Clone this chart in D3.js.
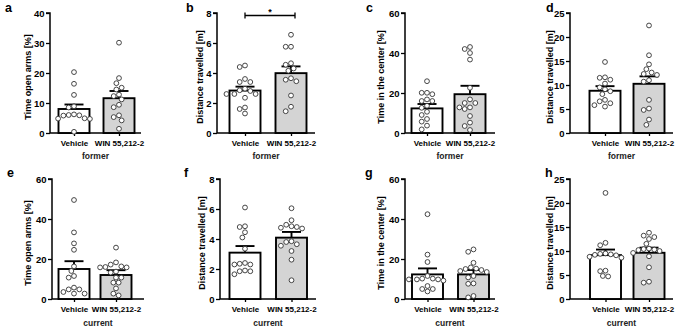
<!DOCTYPE html>
<html>
<head>
<meta charset="utf-8">
<script src="https://cdn.jsdelivr.net/npm/d3@7"></script>
<style>
  body { margin: 0; background: #fff; }
  svg { font-family: "Liberation Sans", Arial, sans-serif; }
</style>
</head>
<body>
<div id="chart"></div>
<script>
// groups and panel info
const groups = ["Vehicle", "WIN 55,212-2"];
const panelLetters = ["a", "b", "c", "d", "e", "f", "g", "h"];
const panelYLabels = [
  "Time open arms [%]", "Distance travelled [m]", "Time in the center [%]", "Distance travelled [m]",
  "Time open arms [%]", "Distance travelled [m]", "Time in the center [%]", "Distance travelled [m]"
];
const panelSessions = ["former", "former", "former", "former", "current", "current", "current", "current"];
const yMax = [40, 8, 60, 25, 60, 8, 60, 25];
const yStep = [10, 2, 20, 5, 20, 2, 20, 5];

// mean and SEM per panel [Vehicle, WIN]
const barMeans = [[8.0, 11.6], [2.83, 3.99], [12.3, 19.4], [8.8, 10.25], [15.0, 12.0], [3.09, 4.09], [12.3, 12.3], [9.14, 9.63]];
const barSems = [[1.5, 2.4], [0.26, 0.45], [2.2, 4.2], [0.96, 1.55], [3.9, 2.4], [0.44, 0.38], [3.0, 2.2], [1.16, 1.07]];

// individual animals
const pointsVehicle = [
  [20.3, 16.4, 12.7, 8.9, 8.5, 6.0, 5.8, 6.2, 5.9, 4.8, 4.9, 4.7, 0.4],
  [4.5, 4.4, 3.6, 3.4, 3.4, 2.95, 2.85, 2.8, 2.6, 2.6, 2.6, 2.35, 1.7, 1.6, 1.3],
  [25.9, 20.1, 20.1, 19.4, 16.8, 16, 16, 13.6, 12.6, 10.6, 9, 7, 5.7, 3.7, 1.8],
  [14.8, 11.6, 11.5, 11.1, 10.3, 9.5, 9.1, 8.7, 8.1, 6.9, 6.6, 6.2, 5.8, 5.5],
  [49.5, 33.3, 27.8, 24.6, 16.3, 14, 11.5, 10.7, 5.7, 4.8, 4.8, 3.5, 2.7, 2.7],
  [6.1, 4.85, 4.8, 4.45, 4.1, 3.35, 2.4, 2.35, 2.3, 2.3, 1.9, 1.85, 1.85, 1.65],
  [42.4, 22.2, 18.5, 11.5, 10.2, 10.2, 9.8, 9.8, 9.8, 9.2, 6.5, 5.0, 5.0, 3.8],
  [22.1, 11.7, 11.2, 9.5, 9.4, 9.3, 9.2, 9.1, 8.8, 8.6, 5.9, 5.8, 4.8, 4.7]
];
const pointsWin = [
  [30.1, 18.3, 16.6, 15.1, 14.5, 12.8, 12.3, 11.2, 9.4, 8.6, 5.9, 5.3, 4.2, 1.4],
  [6.55, 5.75, 5.75, 4.65, 4.55, 4.3, 4.15, 3.65, 3.55, 3.45, 2.5, 1.75, 1.45],
  [43, 42, 40, 36.7, 22.6, 16.8, 15, 15, 12.8, 12.8, 12, 8.5, 5.2, 3.5, 1.5],
  [22.4, 16.2, 14.3, 13.3, 12.6, 12.3, 12.1, 11.0, 10.7, 6.9, 5.1, 4.8, 2.8, 1.7],
  [25.7, 18.3, 17.2, 16.3, 16, 15.8, 15.8, 13.7, 13.2, 10.7, 10.7, 8.2, 8.2, 5.3, 2.7, 1.8],
  [6.05, 5.25, 4.95, 4.85, 4.8, 4.75, 4.7, 3.85, 3.8, 3.65, 3.55, 3.2, 2.62, 1.25],
  [24.8, 23.6, 18.1, 15.8, 15.2, 15.0, 14.5, 14.0, 13.5, 11.5, 10.8, 7.8, 7.6, 1.5, 0.8],
  [13.8, 13.2, 12.9, 12.5, 11.5, 10.5, 10.4, 10.3, 10.2, 10.0, 9.6, 8.9, 6.6, 3.6, 3.4]
];

// layout of each panel (axis x, axis end, first/second bar centre, y-label offset, letter x)
const layout = [
  { ax: 50, end: 141, c1: 74, c2: 119, lab: 22, lx: 5 },
  { ax: 217, end: 315, c1: 245, c2: 291, lab: 17, lx: 186 },
  { ax: 405, end: 495, c1: 427, c2: 470, lab: 24, lx: 366 },
  { ax: 570, end: 673, c1: 605, c2: 649, lab: 20, lx: 546 },
  { ax: 52, end: 144, c1: 74, c2: 116, lab: 24, lx: 7 },
  { ax: 220, end: 316, c1: 245, c2: 291.5, lab: 18, lx: 184 },
  { ax: 405, end: 495, c1: 427.5, c2: 473.5, lab: 24, lx: 365 },
  { ax: 570, end: 673, c1: 605.5, c2: 649, lab: 20, lx: 545 }
];
const rowTop = [13, 179];
const plotH = 120;
const barW = 31;
const ptR = 2.4;
const fills = ["#ffffff", "#d4d4d4"];
const font = "Liberation Sans, Arial, sans-serif";

const svg = d3.select("#chart").append("svg")
  .attr("width", 676)
  .attr("height", 328);

// simple beeswarm: offsets so circles don't overlap
function swarm(vals, y) {
  const placed = [];
  const minD = ptR * 2 + 0.5;
  const order = vals.map((v, i) => i).sort((a, b) => vals[b] - vals[a]);
  const out = new Array(vals.length);
  order.forEach(i => {
    const py = y(vals[i]);
    let best = 0;
    for (let k = 0; k < 40; k++) {
      const cand = (k % 2 === 1 ? -1 : 1) * Math.ceil(k / 2) * (minD * 0.5);
      const ok = placed.every(p => Math.hypot(p.x - cand, p.y - py) >= minD);
      if (ok) { best = cand; break; }
    }
    placed.push({ x: best, y: py });
    out[i] = best;
  });
  return out;
}

panelLetters.forEach((letter, i) => {
  const L = layout[i];
  const top = rowTop[Math.floor(i / 4)];
  const bottom = top + plotH;
  const g = svg.append("g");

  const y = d3.scaleLinear().domain([0, yMax[i]]).range([bottom, top]);
  const x = d3.scalePoint().domain(groups).range([L.c1, L.c2]);

  // y axis
  const yAxis = d3.axisLeft(y)
    .tickValues(d3.range(0, yMax[i] + 0.001, yStep[i]))
    .tickSize(4)
    .tickPadding(1.5);
  const ya = g.append("g")
    .attr("transform", `translate(${L.ax},0)`)
    .call(yAxis);
  ya.select(".domain").attr("stroke", "#000").attr("stroke-width", 1.5).attr("d", `M-4,${top}H0V${bottom}`);
  ya.selectAll(".tick line").attr("stroke", "#000").attr("stroke-width", 1.3);
  ya.selectAll(".tick text").attr("font-size", 9.5).attr("font-weight", "bold").attr("fill", "#000")
    .attr("font-family", font);

  // x axis
  const xAxis = d3.axisBottom(x).tickSize(3).tickPadding(4).tickSizeOuter(0);
  const xa = g.append("g")
    .attr("transform", `translate(0,${bottom})`)
    .call(xAxis);
  xa.select(".domain").attr("stroke", "#000").attr("stroke-width", 1.5).attr("d", `M${L.ax},0H${L.end}`);
  xa.selectAll(".tick line").attr("stroke", "#000").attr("stroke-width", 1.3);
  xa.selectAll(".tick text").attr("font-size", 8).attr("font-weight", "bold").attr("fill", "#000")
    .attr("font-family", font);

  // bars
  g.selectAll(".bar")
    .data(groups)
    .join("rect")
    .attr("class", "bar")
    .attr("x", d => x(d) - barW / 2)
    .attr("width", barW)
    .attr("y", (d, j) => y(barMeans[i][j]))
    .attr("height", (d, j) => bottom - y(barMeans[i][j]))
    .attr("fill", (d, j) => fills[j])
    .attr("stroke", "#000")
    .attr("stroke-width", 1.9);

  // error bars (SEM upward)
  groups.forEach((grp, j) => {
    const cx = x(grp);
    const y0 = y(barMeans[i][j]);
    const y1 = y(barMeans[i][j] + barSems[i][j]);
    g.append("line").attr("x1", cx).attr("x2", cx).attr("y1", y0).attr("y2", y1)
      .attr("stroke", "#000").attr("stroke-width", 1.9);
    g.append("line").attr("x1", cx - 9.5).attr("x2", cx + 9.5).attr("y1", y1).attr("y2", y1)
      .attr("stroke", "#000").attr("stroke-width", 1.9);
  });

  // points
  [pointsVehicle[i], pointsWin[i]].forEach((vals, j) => {
    const offs = swarm(vals, y);
    g.selectAll(".pt" + j)
      .data(vals)
      .join("circle")
      .attr("class", "pt" + j)
      .attr("cx", (d, k) => x(groups[j]) + offs[k])
      .attr("cy", d => y(d))
      .attr("r", ptR)
      .attr("fill", "#fff")
      .attr("stroke", "#333")
      .attr("stroke-width", 0.9);
  });

  // y label
  g.append("text")
    .attr("transform", `translate(${L.ax - L.lab},${(top + bottom) / 2 + 4}) rotate(-90)`)
    .attr("text-anchor", "middle")
    .attr("dy", "0.35em")
    .attr("font-size", 9)
    .attr("font-weight", "bold")
    .text(panelYLabels[i]);

  // session label
  g.append("text")
    .attr("x", (L.ax + L.end) / 2)
    .attr("y", bottom + (i < 4 ? 26 : 27))
    .attr("text-anchor", "middle")
    .attr("font-size", 8.5)
    .attr("font-weight", "bold")
    .attr("fill", "#222")
    .text(panelSessions[i]);

  // panel letter
  g.append("text")
    .attr("x", L.lx)
    .attr("y", i < 4 ? 12 : 177)
    .attr("font-size", 12.5)
    .attr("font-weight", "bold")
    .text(letter);

  // significance bracket in panel b
  if (letter === "b") {
    const by = top + 2.5;
    const xl = x(groups[0]), xr = x(groups[1]) + 4;
    g.append("path")
      .attr("d", `M${xl},${by - 3}V${by + 3}M${xl},${by}H${xr}M${xr},${by - 3}V${by + 3}`)
      .attr("fill", "none").attr("stroke", "#000").attr("stroke-width", 1.3);
    g.append("text")
      .attr("x", (xl + xr) / 2).attr("y", by - 1)
      .attr("text-anchor", "middle")
      .attr("font-size", 9).attr("font-weight", "bold")
      .text("*");
  }
});
</script>
</body>
</html>
